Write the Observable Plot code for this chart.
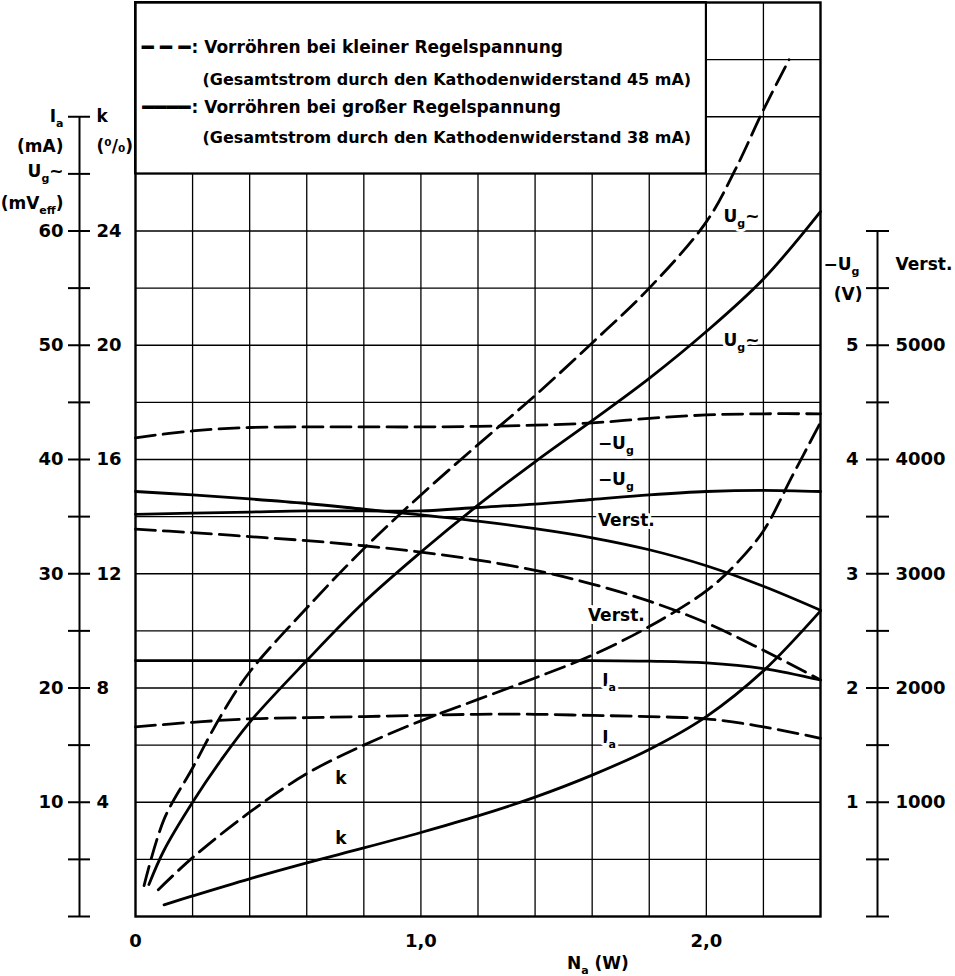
<!DOCTYPE html>
<html><head><meta charset="utf-8">
<script src="https://cdn.jsdelivr.net/npm/d3@7"></script>
<script src="https://cdn.jsdelivr.net/npm/@observablehq/plot@0.6"></script>
<style>html,body{margin:0;padding:0;background:#fff;}</style>
</head><body><div id="chart"></div>
<script>
// ---------- data ----------
// N_a (W) positions
const xFull = [0, 0.2, 0.4, 0.6, 0.8, 1.0, 1.2, 1.4, 1.6, 1.8, 2.0, 2.2, 2.4];

// U_g~ (mV_eff)
const ugAcSmallX = [0.03, 0.1, 0.2, 0.3, 0.4, 0.6, 0.8, 1.0, 1.2, 1.4, 1.6, 1.8, 2.0, 2.1, 2.2, 2.29];
const ugAcSmall  = [2.7, 8.5, 13.0, 17.6, 21.4, 27.0, 32.2, 36.9, 41.3, 45.6, 50.2, 55.0, 60.8, 65.3, 70.6, 75.0];
const ugAcLargeX = [0.047, 0.1, 0.2, 0.3, 0.4, 0.6, 0.8, 1.0, 1.2, 1.4, 1.6, 1.8, 2.0, 2.2, 2.4];
const ugAcLarge  = [2.8, 5.8, 10.0, 13.7, 17.0, 22.4, 27.5, 31.9, 36.0, 39.8, 43.4, 47.1, 51.2, 55.8, 61.7];

// -U_g (V)
const ugDcSmall = [4.19, 4.25, 4.28, 4.285, 4.285, 4.285, 4.29, 4.30, 4.32, 4.36, 4.39, 4.40, 4.40];
const ugDcLarge = [3.52, 3.53, 3.54, 3.55, 3.55, 3.55, 3.58, 3.61, 3.65, 3.69, 3.72, 3.73, 3.72];

// Verst. (gain)
const verstSmall = [3390, 3360, 3325, 3290, 3245, 3190, 3120, 3030, 2910, 2760, 2570, 2330, 2070];
const verstLarge = [3720, 3690, 3655, 3615, 3565, 3515, 3460, 3395, 3315, 3210, 3070, 2890, 2680];

// I_a (mA)
const iaSmall = [16.6, 17.0, 17.3, 17.4, 17.5, 17.6, 17.7, 17.7, 17.6, 17.5, 17.3, 16.6, 15.6];
const iaLarge = [22.4, 22.4, 22.4, 22.4, 22.4, 22.4, 22.4, 22.4, 22.4, 22.35, 22.2, 21.7, 20.7];

// k (%)
const kSmallX = [0.08, 0.2, 0.4, 0.6, 0.8, 1.0, 1.2, 1.4, 1.6, 1.8, 2.0, 2.1, 2.2, 2.3, 2.4];
const kSmall  = [0.94, 2.06, 3.65, 5.0, 6.0, 6.85, 7.6, 8.35, 9.15, 10.15, 11.4, 12.3, 13.5, 15.4, 17.3];
const kLargeX = [0.1, 0.2, 0.4, 0.6, 0.8, 1.0, 1.2, 1.4, 1.6, 1.8, 2.0, 2.2, 2.4];
const kLarge  = [0.41, 0.72, 1.32, 1.88, 2.40, 2.94, 3.52, 4.18, 4.95, 5.85, 7.0, 8.6, 10.7];

// tick labels
const xTickValues = [0, 1, 2];
const xTickLabels = ["0", "1,0", "2,0"];
const iaTickLabels = [10, 20, 30, 40, 50, 60];
const kTickLabels = [4, 8, 12, 16, 20, 24];
const ugTickLabels = [1, 2, 3, 4, 5];
const verstTickLabels = [1000, 2000, 3000, 4000, 5000];

// texts
const legendLines = [
  ": Vorröhren bei kleiner Regelspannung",
  "(Gesamtstrom durch den Kathodenwiderstand 45 mA)",
  ": Vorröhren bei großer Regelspannung",
  "(Gesamtstrom durch den Kathodenwiderstand 38 mA)"
];
const legendSamples = ["\u2501 \u2501 \u2501", "\u2501\u2501\u2501\u2501"];

// ---------- scale factors onto the common (mA / mV) grid ----------
const K_FACTOR = 2.5, UG_FACTOR = 10, VERST_FACTOR = 0.01;

const series = [
  {id: "ugAcSmall", dashed: true,  xs: ugAcSmallX, vs: ugAcSmall, f: 1},
  {id: "ugAcLarge", dashed: false, xs: ugAcLargeX, vs: ugAcLarge, f: 1},
  {id: "ugDcSmall", dashed: true,  xs: xFull, vs: ugDcSmall, f: UG_FACTOR},
  {id: "ugDcLarge", dashed: false, xs: xFull, vs: ugDcLarge, f: UG_FACTOR},
  {id: "verstSmall", dashed: true,  xs: xFull, vs: verstSmall, f: VERST_FACTOR},
  {id: "verstLarge", dashed: false, xs: xFull, vs: verstLarge, f: VERST_FACTOR},
  {id: "iaSmall", dashed: true,  xs: xFull, vs: iaSmall, f: 1},
  {id: "iaLarge", dashed: false, xs: xFull, vs: iaLarge, f: 1},
  {id: "kSmall", dashed: true,  xs: kSmallX, vs: kSmall, f: K_FACTOR},
  {id: "kLarge", dashed: false, xs: kLargeX, vs: kLarge, f: K_FACTOR}
];
const rows = series.flatMap(s => s.vs.map((v, i) => ({id: s.id, dashed: s.dashed, x: s.xs[i], y: v * s.f})));

// curve labels (position in chart units)
const curveLabels = [
  {text: "U_{g}~", x: 2.06, y: 61.3},
  {text: "U_{g}~", x: 2.06, y: 50.4},
  {text: "\u2212U_{g}", x: 1.62, y: 41.4},
  {text: "\u2212U_{g}", x: 1.62, y: 38.25},
  {text: "Verst.", x: 1.62, y: 34.7},
  {text: "Verst.", x: 1.585, y: 26.3},
  {text: "I_{a}", x: 1.635, y: 20.65},
  {text: "I_{a}", x: 1.635, y: 15.65},
  {text: "k", x: 0.70, y: 12.1},
  {text: "k", x: 0.70, y: 6.8}
];
const leftHeadsEnd = [
  {text: "I_{a}", y: 70.0},
  {text: "(mA)", y: 67.4},
  {text: "U_{g}~", y: 65.2},
  {text: "(mV_{eff})", y: 62.4}
];
const leftHeadsStart = [
  {text: "k", y: 70.0},
  {text: "(\u2070/\u2080)", y: 67.4}
];

const FONT = "DejaVu Sans";
const gridX = d3.range(1, 12).map(i => i * 0.2);
const gridY = d3.range(1, 16).map(i => i * 5);
const leftMinor = d3.range(0, 15).map(i => i * 5);   // 0..70
const rightMinor = d3.range(0, 13).map(i => i * 5);  // 0..60
const labelFor = (labels, f) => d => String(labels[labels.findIndex(v => Math.abs(v * f - d) < 1e-6)]);

const chart = Plot.plot({
  width: 955, height: 976,
  marginLeft: 135, marginRight: 135, marginTop: 2, marginBottom: 60,
  x: {domain: [0, 2.4], axis: null},
  y: {domain: [0, 80], axis: null},
  style: {fontFamily: FONT, fontWeight: "bold", fontSize: "18px", color: "black", background: "white"},
  marks: [
    Plot.ruleX(gridX, {stroke: "black", strokeWidth: 1.3}),
    Plot.ruleY(gridY, {stroke: "black", strokeWidth: 1.3}),
    Plot.rect([0], {x1: 0, x2: 2.0, y1: 65, y2: 80, fill: "white", stroke: "black", strokeWidth: 2}),
    Plot.frame({stroke: "black", strokeWidth: 2.4}),

    // left double axis
    Plot.ruleX([0], {y1: 0, y2: 70, dx: -56, stroke: "black", strokeWidth: 2}),
    Plot.axisY(leftMinor, {anchor: "left", tickSize: 11, dx: -45, fill: "none", tickFormat: () => "", label: null, strokeWidth: 2}),
    Plot.axisY(leftMinor, {anchor: "left", tickSize: 11, dx: -56, fill: "none", tickFormat: () => "", label: null, strokeWidth: 2}),
    Plot.axisY(iaTickLabels, {anchor: "left", tickSize: 0, tickPadding: 0, dx: -72, label: null, fontSize: 18,
      tickFormat: labelFor(iaTickLabels, 1)}),
    Plot.axisY(kTickLabels.map(k => k * K_FACTOR), {anchor: "left", tickSize: 0, tickPadding: 0, dx: -39, textAnchor: "start",
      tickFormat: labelFor(kTickLabels, K_FACTOR), label: null, fontSize: 18}),
    Plot.text(leftHeadsEnd, {y: "y", text: "text", frameAnchor: "left", dx: -72, textAnchor: "end", fontSize: 17}),
    Plot.text(leftHeadsStart, {y: "y", text: "text", frameAnchor: "left", dx: -39, textAnchor: "start", fontSize: 17}),

    // right double axis
    Plot.ruleX([2.4], {y1: 0, y2: 60, dx: 57, stroke: "black", strokeWidth: 2}),
    Plot.axisY(rightMinor, {anchor: "right", tickSize: 12, dx: 45, fill: "none", tickFormat: () => "", label: null, strokeWidth: 2}),
    Plot.axisY(rightMinor, {anchor: "right", tickSize: 11, dx: 57, fill: "none", tickFormat: () => "", label: null, strokeWidth: 2}),
    Plot.axisY(ugTickLabels.map(v => v * UG_FACTOR), {anchor: "right", tickSize: 0, tickPadding: 0, dx: 38, textAnchor: "end",
      tickFormat: labelFor(ugTickLabels, UG_FACTOR), label: null, fontSize: 18}),
    Plot.axisY(verstTickLabels.map(v => v * VERST_FACTOR), {anchor: "right", tickSize: 0, tickPadding: 0, dx: 75,
      tickFormat: labelFor(verstTickLabels, VERST_FACTOR), label: null, fontSize: 18}),
    Plot.text(["\u2212U_{g}"], {y: 57.1, frameAnchor: "right", dx: 3, textAnchor: "start", fontSize: 17}),
    Plot.text(["(V)"], {y: 54.4, frameAnchor: "right", dx: 42, textAnchor: "end", fontSize: 17}),
    Plot.text(["Verst."], {y: 57.1, frameAnchor: "right", dx: 75, textAnchor: "start", fontSize: 17}),

    // x axis
    Plot.axisX(xTickValues, {anchor: "bottom", tickSize: 0, tickPadding: 18, label: null,
      tickFormat: d => xTickLabels[xTickValues.indexOf(d)], fontSize: 18}),
    Plot.text(["N_{a} (W)"], {x: 1.62, frameAnchor: "bottom", lineAnchor: "middle", dy: 47, fontSize: 17}),

    // curve labels (masking the grid)
    Plot.text(curveLabels, {x: "x", y: "y", text: "text", textAnchor: "start", fontSize: 17,
      stroke: "white", strokeWidth: 6, fill: "black"}),

    // curves
    Plot.line(rows.filter(d => !d.dashed), {x: "x", y: "y", z: "id", stroke: "black", strokeWidth: 2.8, curve: "catmull-rom"}),
    Plot.line(rows.filter(d => d.dashed), {x: "x", y: "y", z: "id", stroke: "black", strokeWidth: 2.8, curve: "catmull-rom",
      strokeDasharray: "20,8"}),

    // legend inside the box
    Plot.text([legendSamples[0]], {frameAnchor: "top-left", lineAnchor: "middle", dx: 55, dy: 44.6, textAnchor: "end", fontSize: 20, fontWeight: "normal"}),
    Plot.text([legendLines[0]], {frameAnchor: "top-left", lineAnchor: "middle", dx: 56, dy: 44.6, textAnchor: "start", fontSize: 17}),
    Plot.text([legendLines[1]], {frameAnchor: "top-left", lineAnchor: "middle", dx: 67, dy: 77.5, textAnchor: "start", fontSize: 16}),
    Plot.text([legendSamples[1]], {frameAnchor: "top-left", lineAnchor: "middle", dx: 55, dy: 104.7, textAnchor: "end", fontSize: 20, fontWeight: "normal"}),
    Plot.text([legendLines[2]], {frameAnchor: "top-left", lineAnchor: "middle", dx: 56, dy: 104.7, textAnchor: "start", fontSize: 17}),
    Plot.text([legendLines[3]], {frameAnchor: "top-left", lineAnchor: "middle", dx: 67, dy: 135.5, textAnchor: "start", fontSize: 16})
  ]
});

document.getElementById("chart").appendChild(chart);

// turn "_{...}" into real subscripts
const NS = "http://www.w3.org/2000/svg";
chart.querySelectorAll("text").forEach(t => {
  const s = t.textContent;
  if (!s.includes("_{")) return;
  const fs = parseFloat(getComputedStyle(t).fontSize) || 17;
  const parts = [];
  const re = /_\{([^}]*)\}/g;
  let last = 0, m;
  while ((m = re.exec(s))) {
    if (m.index > last) parts.push({t: s.slice(last, m.index), sub: false});
    parts.push({t: m[1], sub: true});
    last = re.lastIndex;
  }
  if (last < s.length) parts.push({t: s.slice(last), sub: false});
  while (t.firstChild) t.removeChild(t.firstChild);
  let cur = 0;
  parts.forEach(p => {
    const ts = document.createElementNS(NS, "tspan");
    ts.textContent = p.t;
    const want = p.sub ? Math.round(fs * 0.32) : 0;
    if (want !== cur) { ts.setAttribute("dy", want - cur); cur = want; }
    if (p.sub) ts.setAttribute("font-size", Math.round(fs * 0.66));
    t.appendChild(ts);
  });
});
</script>
</body></html>
